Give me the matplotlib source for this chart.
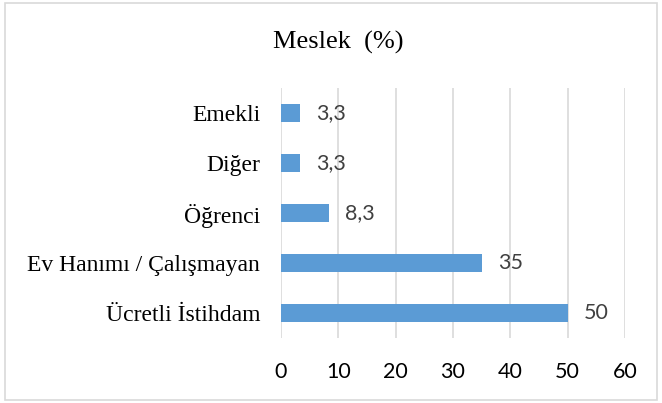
import matplotlib.pyplot as plt
from matplotlib.patches import Rectangle

categories = ["Ücretli İstihdam", "Ev Hanımı / Çalışmayan", "Öğrenci", "Diğer", "Emekli"]
values = [50, 35, 8.3, 3.3, 3.3]
value_labels = ["50", "35", "8,3", "3,3", "3,3"]
xticks = [0, 10, 20, 30, 40, 50, 60]

serif = "Liberation Serif"
sans = "Lato"

fig = plt.figure(figsize=(6.62, 4.03), dpi=100)
ax = fig.add_axes([281 / 662, 1 - 338 / 403, 344 / 662, 250 / 403])

ypos = range(len(categories))
ax.barh(ypos, values, height=0.36, color="#5B9BD5", zorder=3)
for y, v, lab in zip(ypos, values, value_labels):
    ax.text(v + 2.8, y, lab, va="center", ha="left", fontsize=15.5,
            color="#404040", family=sans)

ax.set_xlim(0, 60)
ax.set_ylim(-0.5, 4.5)
ax.set_xticks(xticks)
ax.set_xticklabels([str(t) for t in xticks], fontsize=15.5, color="#000000", family=sans)
ax.set_yticks(list(ypos))
ax.set_yticklabels(categories, fontsize=17, family=serif)
ax.tick_params(axis="both", length=0)
ax.tick_params(axis="x", pad=17)
ax.tick_params(axis="y", pad=15)
ax.grid(axis="x", color="#D9D9D9", linewidth=1.2, zorder=0)
for s in ax.spines.values():
    s.set_visible(False)

# title sits a little right of centre in the original
fig.text(338 / 662, 1 - 42 / 403, "Meslek  (%)", ha="center", va="center",
         fontsize=19, family=serif)

fig.patches.append(Rectangle((5 / 662, 1 - 400 / 403), 652 / 662, 397 / 403,
                             transform=fig.transFigure, fill=False,
                             edgecolor="#D9D9D9", linewidth=1.2))

fig.savefig("out.png", dpi=100)
